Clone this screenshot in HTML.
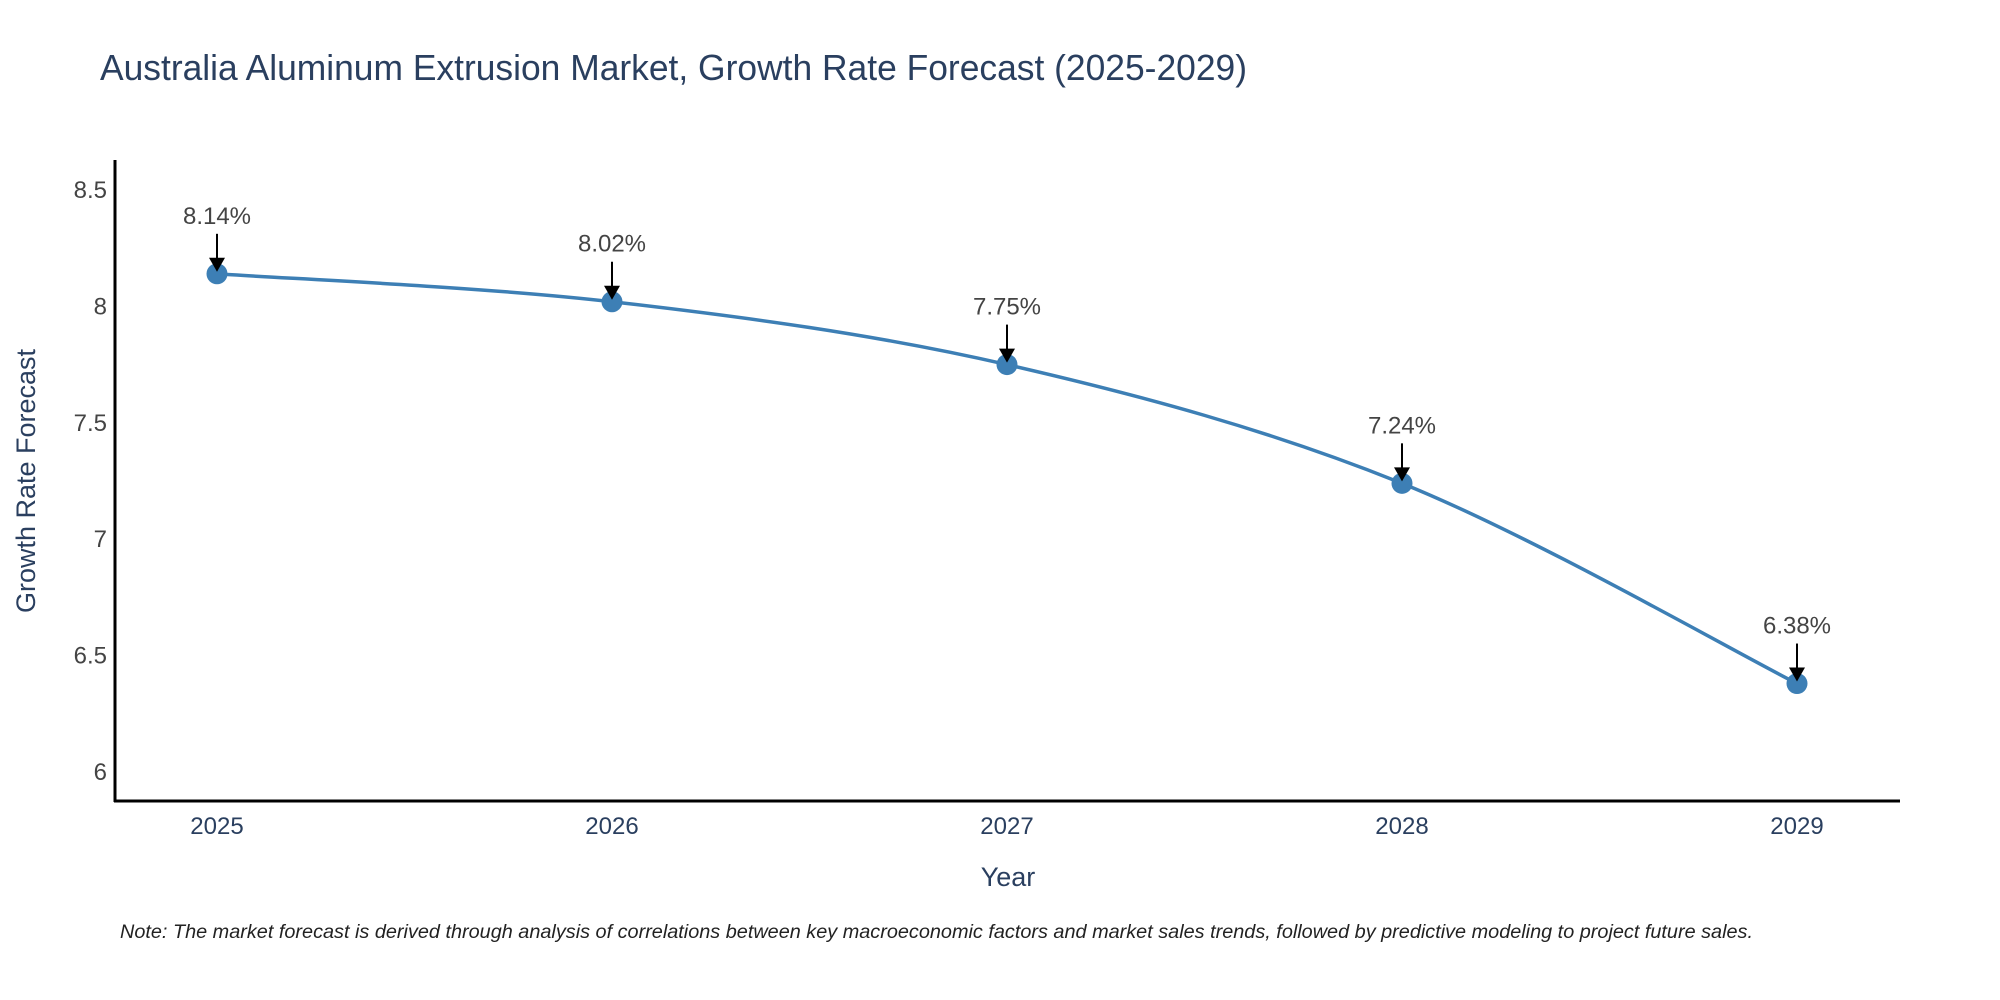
<!DOCTYPE html>
<html><head><meta charset="utf-8"><style>
html,body{margin:0;padding:0;background:#fff;}
svg{display:block;font-family:"Liberation Sans",sans-serif;}
</style></head><body>
<svg id="chart" width="2000" height="1000" viewBox="0 0 2000 1000">
<text x="100" y="80" font-size="36" fill="#2a3f5f" textLength="1147" lengthAdjust="spacingAndGlyphs">Australia Aluminum Extrusion Market, Growth Rate Forecast (2025-2029)</text>
<g id="yticks"></g>
<g id="xticks"></g>
<line x1="115" y1="160" x2="115" y2="802" stroke="#000" stroke-width="3"/>
<line x1="114" y1="801" x2="1900" y2="801" stroke="#000" stroke-width="3"/>
<text transform="translate(35,481) rotate(-90)" text-anchor="middle" font-size="27" fill="#2a3f5f">Growth Rate Forecast</text>
<text x="1008" y="886" text-anchor="middle" font-size="27" fill="#2a3f5f">Year</text>
<text x="120" y="938" font-size="19" font-style="italic" fill="#222" textLength="1633" lengthAdjust="spacingAndGlyphs">Note: The market forecast is derived through analysis of correlations between key macroeconomic factors and market sales trends, followed by predictive modeling to project future sales.</text>
<g id="series"></g>
</svg>
<script>
const years = [2025, 2026, 2027, 2028, 2029];
const values = [8.14, 8.02, 7.75, 7.24, 6.38];
const valueLabels = ["8.14%", "8.02%", "7.75%", "7.24%", "6.38%"];
const yTicks = [6, 6.5, 7, 7.5, 8, 8.5];
const yTickLabels = ["6", "6.5", "7", "7.5", "8", "8.5"];

const NS = "http://www.w3.org/2000/svg";
function xScale(i){ return 217 + i * 395; }
function yScale(v){ return 772 - (v - 6) * 232.8; }
function mk(tag, attrs, parent){ const e = document.createElementNS(NS, tag); for (const k in attrs) e.setAttribute(k, attrs[k]); parent.appendChild(e); return e; }

const yg = document.getElementById('yticks');
yTicks.forEach((t, i) => {
  const el = mk('text', {x: 107, y: yScale(t) + 8, 'text-anchor': 'end', 'font-size': 24, fill: '#444'}, yg);
  el.textContent = yTickLabels[i];
  
  
});
const xg = document.getElementById('xticks');
years.forEach((y, i) => {
  const el = mk('text', {x: xScale(i), y: 834, 'text-anchor': 'middle', 'font-size': 24, fill: '#2a3f5f'}, xg);
  el.textContent = String(y);
  
  
});

const sg = document.getElementById('series');
const pts = values.map((v, i) => [xScale(i), yScale(v)]);
let d = 'M' + pts[0][0] + ',' + pts[0][1];
const t = 0.5 / 3;
for (let i = 0; i < pts.length - 1; i++) {
  const p0 = pts[Math.max(0, i - 1)], p1 = pts[i], p2 = pts[i + 1], p3 = pts[Math.min(pts.length - 1, i + 2)];
  const c1x = p1[0] + (p2[0] - p0[0]) * t, c1y = p1[1] + (p2[1] - p0[1]) * t;
  const c2x = p2[0] - (p3[0] - p1[0]) * t, c2y = p2[1] - (p3[1] - p1[1]) * t;
  d += ' C' + c1x + ',' + c1y + ' ' + c2x + ',' + c2y + ' ' + p2[0] + ',' + p2[1];
}
const line = mk('path', {d: d, fill: 'none', stroke: '#3d7fb5', 'stroke-width': 3.5}, sg);



pts.forEach((p, i) => {
  const c = mk('circle', {cx: p[0], cy: p[1], r: 10.5, fill: '#3d7fb5'}, sg);
  
  
  const a = mk('line', {x1: p[0], y1: p[1] - 40, x2: p[0], y2: p[1] - 14, stroke: '#000', 'stroke-width': 2}, sg);
  
  
  const h = mk('polygon', {points: (p[0]-8)+','+(p[1]-16)+' '+(p[0]+8)+','+(p[1]-16)+' '+p[0]+','+(p[1]-2), fill: '#000'}, sg);
  
  
  const lb = mk('text', {x: p[0], y: p[1] - 50, 'text-anchor': 'middle', 'font-size': 24, fill: '#444'}, sg);
  lb.textContent = valueLabels[i];
  
  
});
</script>
</body></html>
